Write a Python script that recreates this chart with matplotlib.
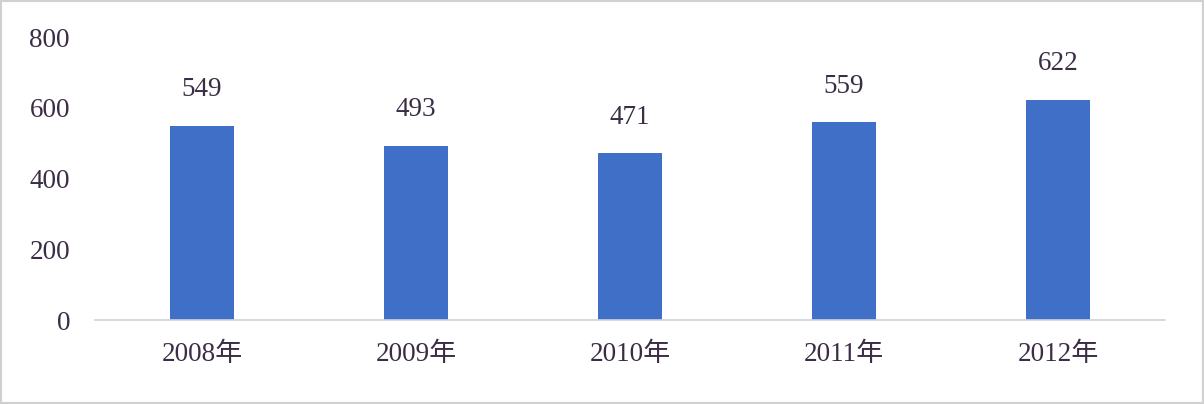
import matplotlib.pyplot as plt
from matplotlib.patches import Rectangle

plt.rcParams['font.family'] = ['Liberation Serif', 'Noto Sans CJK SC']

# --- Daten ---
jahre = ['2008年', '2009年', '2010年', '2011年', '2012年']
werte = [549, 493, 471, 559, 622]
y_ticks = [0, 200, 400, 600, 800]

text_farbe = '#3b2d45'
balken_farbe = '#3f6fc6'

fig = plt.figure(figsize=(12.04, 4.04), dpi=100)
ax = fig.add_axes([95 / 1204, 1 - 320 / 404, 1070 / 1204, (320 - 37) / 404])

positionen = list(range(len(jahre)))
balken = ax.bar(positionen, werte, width=0.30, color=balken_farbe)

# Werte über den Balken
for x, w in zip(positionen, werte):
    ax.annotate(str(w), (x, w), xytext=(0, 36), textcoords='offset pixels',
                ha='center', va='center', fontsize=19.5, color=text_farbe)

ax.set_xlim(-0.5, len(jahre) - 0.5)
ax.set_ylim(0, 800)
ax.set_yticks(y_ticks)
ax.set_yticklabels([str(t) for t in y_ticks], fontsize=19.5, color=text_farbe)
ax.set_xticks(positionen)
ax.set_xticklabels(jahre, fontsize=19.5, color=text_farbe)
ax.tick_params(axis='both', length=0)
ax.tick_params(axis='y', pad=18)
ax.tick_params(axis='x', pad=16)

for seite in ['top', 'right', 'left']:
    ax.spines[seite].set_visible(False)
ax.spines['bottom'].set_color('#cdd3dd')
ax.spines['bottom'].set_linewidth(1.2)

# heller Rahmen um das ganze Bild
fig.patches.append(Rectangle((0.001, 0.002), 0.998, 0.995, transform=fig.transFigure,
                             fill=False, edgecolor='#d0d0d0', linewidth=1.5))

fig.savefig('out.png', dpi=100)
